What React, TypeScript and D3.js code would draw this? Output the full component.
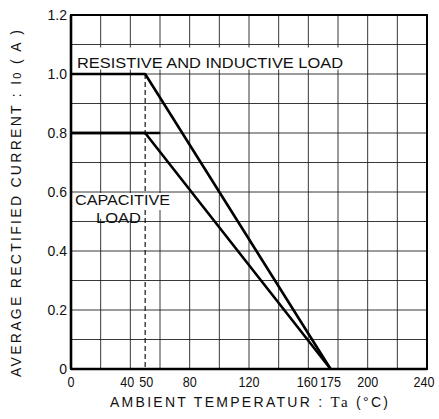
import React from "react";
import * as d3 from "d3";

const xTickValues = [0, 40, 50, 80, 120, 160, 175, 200, 240];
const yTickValues = [0, 0.2, 0.4, 0.6, 0.8, 1.0, 1.2];
const yTickLabels = ["0", "0.2", "0.4", "0.6", "0.8", "1.0", "1.2"];
const xGridValues = [20, 40, 60, 80, 100, 120, 140, 160, 180, 200, 220];
const yGridValues = [0.1, 0.2, 0.3, 0.4, 0.5, 0.6, 0.7, 0.8, 0.9, 1.0, 1.1];
const resistiveTemp = [0, 50, 175];
const resistiveCurrent = [1.0, 1.0, 0];
const capacitiveTemp = [0, 50, 175];
const capacitiveCurrent = [0.8, 0.8, 0];
const capacitiveFlatTemp = [0, 60];
const capacitiveFlatCurrent = [0.8, 0.8];
const derateTemp = 50;

const W = 439;
const H = 419;
const left = 71, right = 427, top = 15, bottom = 369;

export default function App() {
  const x = d3.scaleLinear().domain([0, 240]).range([left, right]);
  const y = d3.scaleLinear().domain([0, 1.2]).range([bottom, top]);
  const line = d3
    .line<[number, number]>()
    .x((d) => x(d[0]))
    .y((d) => y(d[1]));
  const res = resistiveTemp.map((t, i) => [t, resistiveCurrent[i]] as [number, number]);
  const cap = capacitiveTemp.map((t, i) => [t, capacitiveCurrent[i]] as [number, number]);
  const capFlat = capacitiveFlatTemp.map((t, i) => [t, capacitiveFlatCurrent[i]] as [number, number]);
  const font = "'Liberation Sans', Arial, sans-serif";
  const tickNudge = (v: number) => (v === 40 ? -3 : v === 50 ? 1 : v === 160 ? -1 : v === 240 ? -3 : 0);
  return (
    <svg
      width={W}
      height={H}
      style={{ position: "absolute", left: 0, top: 0, background: "#fff" }}
      fontFamily={font}
    >
      <rect x={0} y={0} width={W} height={H} fill="#fff" />
      {xGridValues.map((v) => (
        <line key={"gx" + v} x1={x(v)} x2={x(v)} y1={top} y2={bottom} stroke="#222" strokeWidth={0.9} />
      ))}
      {yGridValues.map((v) => (
        <line key={"gy" + v} x1={left} x2={right} y1={y(v)} y2={y(v)} stroke="#222" strokeWidth={0.9} />
      ))}
      <line
        x1={x(derateTemp)}
        x2={x(derateTemp)}
        y1={y(1.0)}
        y2={bottom}
        stroke="#111"
        strokeWidth={1.2}
        strokeDasharray="5,3"
      />
      {/* label boxes */}
      <rect x={74} y={y(1.1) + 3} width={274} height={22} fill="#fff" />
      <text x={77} y={68} fontSize={14.5} textLength={266} lengthAdjust="spacingAndGlyphs" fill="#111">
        RESISTIVE AND INDUCTIVE LOAD
      </text>
      <rect x={74} y={y(0.6) + 1} width={99} height={17} fill="#fff" />
      <rect x={95} y={y(0.55)} width={49} height={12} fill="#fff" />
      <text x={75} y={205} fontSize={14} textLength={95} lengthAdjust="spacingAndGlyphs" fill="#111">
        CAPACITIVE
      </text>
      <text x={96} y={223} fontSize={14} textLength={45} lengthAdjust="spacingAndGlyphs" fill="#111">
        LOAD
      </text>
      {/* curves */}
      <path d={line(res) || ""} fill="none" stroke="#000" strokeWidth={2.6} strokeLinejoin="round" />
      <path d={line(cap) || ""} fill="none" stroke="#000" strokeWidth={2.6} strokeLinejoin="round" />
      <path d={line(capFlat) || ""} fill="none" stroke="#000" strokeWidth={2.6} />
      {/* frame */}
      <rect x={left} y={top} width={right - left} height={bottom - top} fill="none" stroke="#000" strokeWidth={2} />
      <line x1={left} x2={left} y1={top} y2={bottom} stroke="#000" strokeWidth={2.6} />
      <line x1={left} x2={right} y1={bottom} y2={bottom} stroke="#000" strokeWidth={2.6} />
      {/* y ticks */}
      {yTickValues.map((v, i) => (
        <text key={"yt" + v} x={67} y={y(v) + 5} fontSize={14} textAnchor="end" fill="#111">
          {yTickLabels[i]}
        </text>
      ))}
      {xTickValues.map((v) => (
        <text
          key={"xt" + v}
          x={x(v) + tickNudge(v)}
          y={387}
          fontSize={14}
          textAnchor="middle"
          fill="#111"
          textLength={String(v).length * 7}
          lengthAdjust="spacingAndGlyphs"
        >
          {String(v)}
        </text>
      ))}
      <text x={110} y={407} fontSize={14} fill="#111" textLength={278} lengthAdjust="spacing">
        AMBIENT TEMPERATUR :{" "}
        <tspan fontFamily="'Liberation Serif', serif" fontSize={15}>Ta</tspan> (°C)
      </text>
      <text
        transform={`translate(21,377) rotate(-90)`}
        fontSize={14}
        fill="#111"
        textLength={347}
        lengthAdjust="spacing"
      >
        AVERAGE RECTIFIED CURRENT : I<tspan fontSize={11}>0</tspan> ( A )
      </text>
    </svg>
  );
}
